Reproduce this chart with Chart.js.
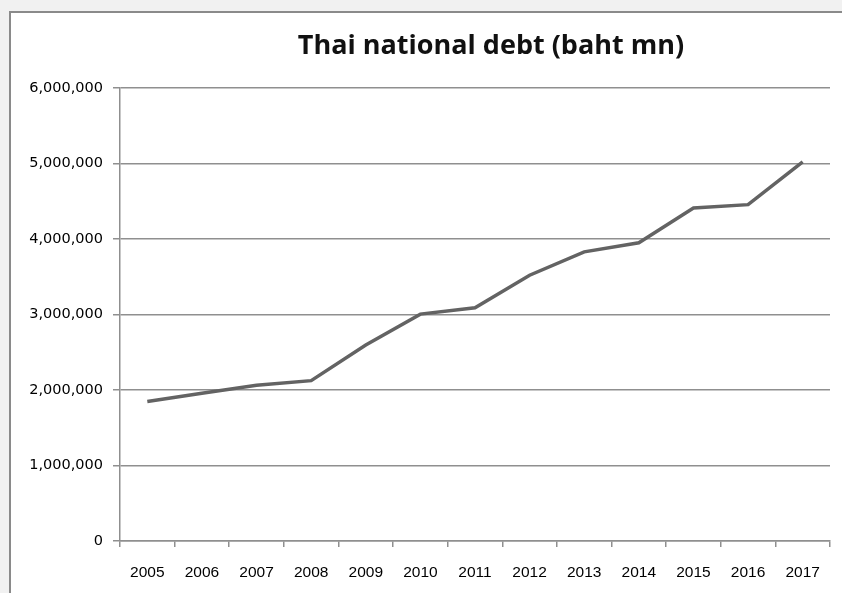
<!DOCTYPE html>
<html>
<head>
<meta charset="utf-8">
<script src="https://cdn.jsdelivr.net/npm/chart.js@4/dist/chart.umd.min.js"></script>
<style>
  html, body { margin: 0; padding: 0; background: #f1f1f1; }
  #frame {
    position: absolute; left: 9px; top: 11px; width: 860px; height: 600px;
    background: #fff; border-left: 2px solid #8a8a8a; border-top: 2px solid #8a8a8a;
  }
  #wrap { position: absolute; left: 0; top: 0; width: 842px; height: 593px; }
</style>
</head>
<body>
<div id="frame"></div>
<div id="wrap"><canvas id="chart" width="842" height="593"></canvas></div>
<script>
const chartTitle = 'Thai national debt (baht mn)';
const years = ['2005', '2006', '2007', '2008', '2009', '2010', '2011', '2012', '2013', '2014', '2015', '2016', '2017'];
const debt = [1847000, 1957000, 2063000, 2124000, 2595000, 3005000, 3090000, 3520000, 3830000, 3950000, 4410000, 4455000, 5020000];
const yTicks = [0, 1000000, 2000000, 3000000, 4000000, 5000000, 6000000];

const gridGray = '#8f8f8f';

// title is centred over the plot a bit right of the canvas middle, like the original
const titlePlugin = {
  id: 'titleText',
  afterDraw(chart) {
    const ctx = chart.ctx;
    ctx.save();
    ctx.font = 'bold 27px "Open Sans", sans-serif';
    ctx.fillStyle = '#111';
    ctx.textAlign = 'center';
    ctx.textBaseline = 'alphabetic';
    ctx.fillText(chartTitle, 491, 54);
    ctx.restore();
  }
};

new Chart(document.getElementById('chart').getContext('2d'), {
  type: 'line',
  data: {
    labels: years,
    datasets: [{
      label: chartTitle,
      data: debt,
      borderColor: '#636363',
      borderWidth: 3.5,
      pointRadius: 0,
      tension: 0,
      fill: false
    }]
  },
  options: {
    responsive: false,
    animation: false,
    layout: { padding: { top: 88, right: 12, bottom: 6, left: 0 } },
    plugins: {
      legend: { display: false },
      title: { display: false },
      tooltip: { enabled: false }
    },
    scales: {
      x: {
        offset: true,
        afterFit(scale) { scale.height = 46; },
        grid: {
          offset: true,
          drawOnChartArea: false,
          drawTicks: true,
          tickLength: 6,
          color: gridGray,
          lineWidth: 1.5
        },
        border: { color: gridGray, width: 1.5 },
        ticks: {
          padding: 16,
          color: '#000',
          font: { family: '"Liberation Sans Narrow", "Liberation Sans", sans-serif', size: 15.5 },
          maxRotation: 0,
          autoSkip: false
        }
      },
      y: {
        min: 0,
        max: 6000000,
        afterFit(scale) { scale.width = 120; },
        afterBuildTicks(scale) { scale.ticks = yTicks.map(v => ({ value: v })); },
        grid: {
          color: gridGray,
          lineWidth: 1.5,
          drawTicks: true,
          tickLength: 7
        },
        border: { color: gridGray, width: 1.5 },
        ticks: {
          padding: 10,
          color: '#000',
          font: { family: '"DejaVu Sans", sans-serif', size: 14.5 },
          callback: v => v.toLocaleString('en-US')
        }
      }
    }
  },
  plugins: [titlePlugin]
});
</script>
</body>
</html>
